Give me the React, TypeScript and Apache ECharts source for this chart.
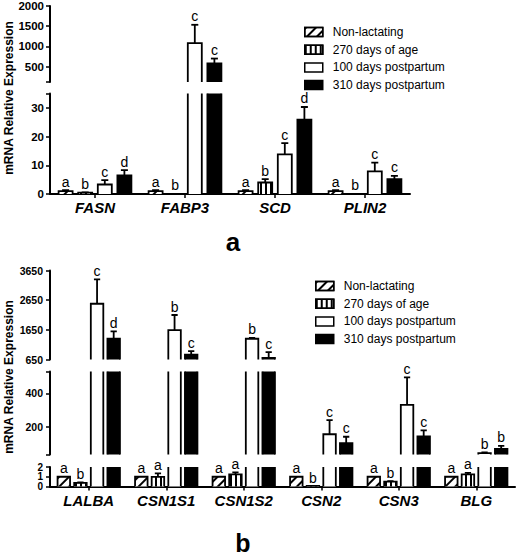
import React, { useEffect, useRef } from 'react';
import * as echarts from 'echarts';

const FONT = '"Liberation Sans", Arial, Helvetica, sans-serif';

// ---------------- data ----------------
const groups = ['Non-lactating', '270 days of age', '100 days postpartum', '310 days postpartum'];

// Panel a
const genesA = ['FASN', 'FABP3', 'SCD', 'PLIN2'];
const nonLactA = [1, 1, 1, 1];
const nonLactErrA = [1.3, 1.3, 1.3, 1.3];
const d270A = [0.5, 0.05, 4.0, 0.05];
const d270ErrA = [0.6, 0.05, 5.2, 0.05];
const d100A = [3.3, 1080, 13.8, 7.9];
const d100ErrA = [4.8, 1535, 17.7, 10.9];
const d310A = [6.5, 580, 25.9, 5.2];
const d310ErrA = [8.3, 700, 30.3, 6.3];
const lettersNonLactA = ['a', 'a', 'a', 'a'];
const letters270A = ['b', 'b', 'b', 'b'];
const letters100A = ['c', 'c', 'c', 'c'];
const letters310A = ['d', 'c', 'd', 'c'];
// broken y axis of panel a: upper and lower segment
const ticksAUpper = [120, 500, 1000, 1500, 2000];
const labelsAUpper = [500, 1000, 1500, 2000];
const ticksALower = [0, 10, 20, 30, 35];
const labelsALower = [0, 10, 20, 30];

// Panel b
const genesB = ['LALBA', 'CSN1S1', 'CSN1S2', 'CSN2', 'CSN3', 'BLG'];
const nonLactB = [1, 1, 1, 1, 1, 1];
const nonLactErrB = [1, 1, 1, 1, 1, 1];
const d270B = [0.38, 0.98, 1.25, 0.05, 0.5, 1.25];
const d270ErrB = [0.42, 1.35, 1.45, 0.05, 0.55, 1.4];
const d100B = [2530, 1640, 1350, 155, 330, 42];
const d100ErrB = [3350, 2150, 1380, 240, 495, 46];
const d310B = [1350, 810, 700, 102, 142, 68];
const d310ErrB = [1600, 930, 900, 140, 178, 85];
const lettersNonLactB = ['a', 'a', 'a', 'a', 'a', 'a'];
const letters270B = ['b', 'a', 'a', 'b', 'b', 'a'];
const letters100B = ['c', 'b', 'b', 'c', 'c', 'b'];
const letters310B = ['d', 'c', 'c', 'c', 'c', 'b'];
// broken y axis of panel b: top, middle and bottom segment
const ticksBTop = [650, 1650, 2650, 3650];
const labelsBTop = [650, 1650, 2650, 3650];
const ticksBMid = [34, 200, 400, 530];
const labelsBMid = [200, 400];
const ticksBBot = [0, 1, 2];
const labelsBBot = [0, 1, 2];

// ---------------- styles ----------------
const hatchDecal = {
  symbol: 'rect',
  symbolSize: 1,
  dashArrayX: [1.4, 5],
  dashArrayY: [20, 0],
  rotation: Math.PI / 4,
  color: '#000',
};
const vlineDecal = {
  symbol: 'rect',
  symbolSize: 1,
  dashArrayX: [1.4, 3],
  dashArrayY: [20, 0],
  rotation: 0,
  color: '#000',
};
const groupStyles: any[] = [
  { color: '#fff', decal: hatchDecal },
  { color: '#fff', decal: vlineDecal },
  { color: '#fff' },
  { color: '#000' },
];

type Seg = {
  top: number;
  height: number;
  ticks: number[];
  labels: number[];
  isBottom: boolean;
  font?: number;
  crowded?: boolean;
};
type Panel = {
  genes: string[];
  vals: number[][];
  errs: number[][];
  letters: string[][];
  left: number;
  width: number;
  barW: number;
  gapPct: number;
  yFont: number;
  yMargin: number;
  segs: Seg[];
};

const panels: Panel[] = [
  {
    genes: genesA,
    vals: [nonLactA, d270A, d100A, d310A],
    errs: [nonLactErrA, d270ErrA, d100ErrA, d310ErrA],
    letters: [lettersNonLactA, letters270A, letters100A, letters310A],
    left: 50,
    width: 360,
    barW: 14,
    gapPct: 0.4,
    yFont: 11.5,
    yMargin: 6,
    segs: [
      { top: 6, height: 76, ticks: ticksAUpper, labels: labelsAUpper, isBottom: false },
      { top: 93.5, height: 100.5, ticks: ticksALower, labels: labelsALower, isBottom: true },
    ],
  },
  {
    genes: genesB,
    vals: [nonLactB, d270B, d100B, d310B],
    errs: [nonLactErrB, d270ErrB, d100ErrB, d310ErrB],
    letters: [lettersNonLactB, letters270B, letters100B, letters310B],
    left: 50,
    width: 465,
    barW: 12.5,
    gapPct: 0.33,
    yFont: 10.5,
    yMargin: 7,
    segs: [
      { top: 270.5, height: 89, ticks: ticksBTop, labels: labelsBTop, isBottom: false },
      { top: 371.5, height: 83, ticks: ticksBMid, labels: labelsBMid, isBottom: false },
      { top: 467, height: 19.5, ticks: ticksBBot, labels: labelsBBot, isBottom: true, font: 10, crowded: true },
    ],
  },
];

function outlineRender(barW: number, pitch: number) {
  return (params: any, api: any) => {
    const cat = api.value(0);
    const grp = api.value(1);
    const val = api.value(2);
    const err = api.value(3);
    const c = api.coord([cat, val]);
    const x0 = c[0] + (grp - 1.5) * pitch - barW / 2;
    const x1 = x0 + barW;
    const xc = (x0 + x1) / 2;
    const yTop = c[1];
    const yBase = api.coord([cat, 0])[1];
    const yErr = api.coord([cat, err])[1];
    const cap = barW * 0.5;
    const lw = 1.8;
    const children: any[] = [
      {
        type: 'polyline',
        shape: { points: [[x0, yBase], [x0, yTop], [x1, yTop], [x1, yBase]] },
        style: { stroke: '#000', lineWidth: lw, fill: null },
      },
    ];
    if (err > val) {
      children.push({
        type: 'line',
        shape: { x1: xc, y1: yTop, x2: xc, y2: yErr },
        style: { stroke: '#000', lineWidth: lw },
      });
      children.push({
        type: 'line',
        shape: { x1: xc - cap / 2, y1: yErr, x2: xc + cap / 2, y2: yErr },
        style: { stroke: '#000', lineWidth: lw },
      });
    }
    return { type: 'group', children };
  };
}

function letterRender(pitch: number, min: number, max: number, letters: string[][]) {
  return (params: any, api: any) => {
    const cat = api.value(0);
    const grp = api.value(1);
    const err = api.value(3);
    if (err < min || err > max) return null;
    const c = api.coord([cat, err]);
    const x = c[0] + (grp - 1.5) * pitch;
    return {
      type: 'text',
      x,
      y: c[1] - 1.5,
      style: {
        text: letters[grp][cat],
        fill: '#000',
        font: `14px ${FONT}`,
        align: 'center',
        verticalAlign: 'bottom',
        textAlign: 'center',
        textVerticalAlign: 'bottom',
      },
    };
  };
}

function buildOption() {
  const grid: any[] = [];
  const xAxis: any[] = [];
  const yAxis: any[] = [];
  const series: any[] = [];
  let gi = 0;
  for (const p of panels) {
    const pitch = p.barW * (1 + p.gapPct);
    for (const s of p.segs) {
      const min = s.ticks[0];
      const max = s.ticks[s.ticks.length - 1];
      const yFont = s.font ?? p.yFont;
      grid.push({ left: p.left, top: s.top, width: p.width, height: s.height, containLabel: false, outerBoundsMode: 'none' });
      xAxis.push({
        type: 'category',
        gridIndex: gi,
        data: p.genes,
        show: s.isBottom,
        axisLine: { show: true, onZero: false, lineStyle: { color: '#000', width: 2 } },
        axisTick: { show: true, alignWithLabel: true, length: 4, lineStyle: { color: '#000', width: 1.5 } },
        axisLabel: {
          interval: 0,
          margin: 6,
          color: '#000',
          fontSize: 15,
          fontWeight: 'bold',
          fontStyle: 'italic',
          fontFamily: FONT,
        },
        splitLine: { show: false },
      });
      // crowded segments: alternate labels are placed on a second, line-less axis of the same grid
      const mainLabels = s.crowded ? s.labels.filter((_, i) => i % 2 === 0) : s.labels;
      const extraLabels = s.crowded ? s.labels.filter((_, i) => i % 2 === 1) : [];
      const labelStyle = {
        formatter: (v: number) => String(v),
        margin: p.yMargin,
        color: '#000',
        fontSize: yFont,
        lineHeight: yFont,
        fontWeight: 'bold',
        fontFamily: FONT,
        hideOverlap: false,
        showMinLabel: true,
        showMaxLabel: true,
      };
      const yIndex = yAxis.length;
      yAxis.push({
        type: 'value',
        gridIndex: gi,
        min,
        max,
        axisLine: { show: true, onZero: false, lineStyle: { color: '#000', width: 2 } },
        axisTick: { show: true, length: 4, customValues: s.ticks, lineStyle: { color: '#000', width: 1.5 } },
        axisLabel: { ...labelStyle, customValues: mainLabels },
        splitLine: { show: false },
      });
      if (extraLabels.length) {
        yAxis.push({
          type: 'value',
          gridIndex: gi,
          position: 'left',
          offset: 0,
          min,
          max,
          axisLine: { show: false },
          axisTick: { show: false },
          axisLabel: { ...labelStyle, customValues: extraLabels },
          splitLine: { show: false },
        });
      }
      groups.forEach((name, k) => {
        series.push({
          type: 'bar',
          name,
          xAxisIndex: gi,
          yAxisIndex: yIndex,
          data: p.vals[k],
          barWidth: p.barW,
          barGap: `${Math.round(p.gapPct * 100)}%`,
          itemStyle: { ...groupStyles[k], borderWidth: 0 },
          silent: true,
          z: 2,
        });
      });
      const cdata: number[][] = [];
      p.genes.forEach((_, i) => groups.forEach((__, k) => cdata.push([i, k, p.vals[k][i], p.errs[k][i]])));
      series.push({
        type: 'custom',
        xAxisIndex: gi,
        yAxisIndex: yIndex,
        data: cdata,
        encode: { x: 0, y: 2 },
        clip: true,
        silent: true,
        z: 3,
        renderItem: outlineRender(p.barW, pitch),
      });
      series.push({
        type: 'custom',
        xAxisIndex: gi,
        yAxisIndex: yIndex,
        data: cdata,
        encode: { x: 0, y: 3 },
        clip: false,
        silent: true,
        z: 4,
        renderItem: letterRender(pitch, min, max, p.letters),
      });
      gi++;
    }
  }

  const legendBase = {
    orient: 'vertical',
    icon: 'rect',
    itemWidth: 18,
    itemHeight: 9,
    itemGap: 3.7,
    selectedMode: false,
    data: groups,
    itemStyle: { borderColor: '#000', borderWidth: 1.5 },
    textStyle: { color: '#000', fontSize: 12, lineHeight: 14, fontFamily: FONT, padding: [0, 0, 0, 5] },
  };

  const textStyleBase = {
    fill: '#000',
    align: 'center',
    textAlign: 'center',
  };

  return {
    animation: false,
    backgroundColor: '#fff',
    textStyle: { fontFamily: FONT },
    grid,
    xAxis,
    yAxis,
    series,
    legend: [
      { ...legendBase, left: 299, top: 20 },
      { ...legendBase, left: 310, top: 274 },
    ],
    graphic: [
      {
        type: 'text',
        x: 9,
        y: 98,
        rotation: Math.PI / 2,
        style: {
          ...textStyleBase,
          text: 'mRNA Relative Expression',
          font: `bold 12px ${FONT}`,
          verticalAlign: 'middle',
          textVerticalAlign: 'middle',
        },
      },
      {
        type: 'text',
        x: 9,
        y: 377,
        rotation: Math.PI / 2,
        style: {
          ...textStyleBase,
          text: 'mRNA Relative Expression',
          font: `bold 12px ${FONT}`,
          verticalAlign: 'middle',
          textVerticalAlign: 'middle',
        },
      },
      {
        type: 'text',
        x: 233,
        y: 242,
        style: {
          ...textStyleBase,
          text: 'a',
          font: `bold 26px ${FONT}`,
          verticalAlign: 'middle',
          textVerticalAlign: 'middle',
        },
      },
      {
        type: 'text',
        x: 243,
        y: 555.5,
        style: {
          ...textStyleBase,
          text: 'b',
          font: `bold 25px ${FONT}`,
          verticalAlign: 'bottom',
          textVerticalAlign: 'bottom',
        },
      },
    ],
  };
}

export default function App() {
  const ref = useRef<HTMLDivElement>(null);
  useEffect(() => {
    if (!ref.current) return;
    const chart = echarts.init(ref.current, null, { renderer: 'svg' });
    chart.setOption(buildOption() as any);
    return () => chart.dispose();
  }, []);
  return (
    <div
      ref={ref}
      style={{ position: 'absolute', left: 0, top: 0, width: 520, height: 556, background: '#fff' }}
    />
  );
}
